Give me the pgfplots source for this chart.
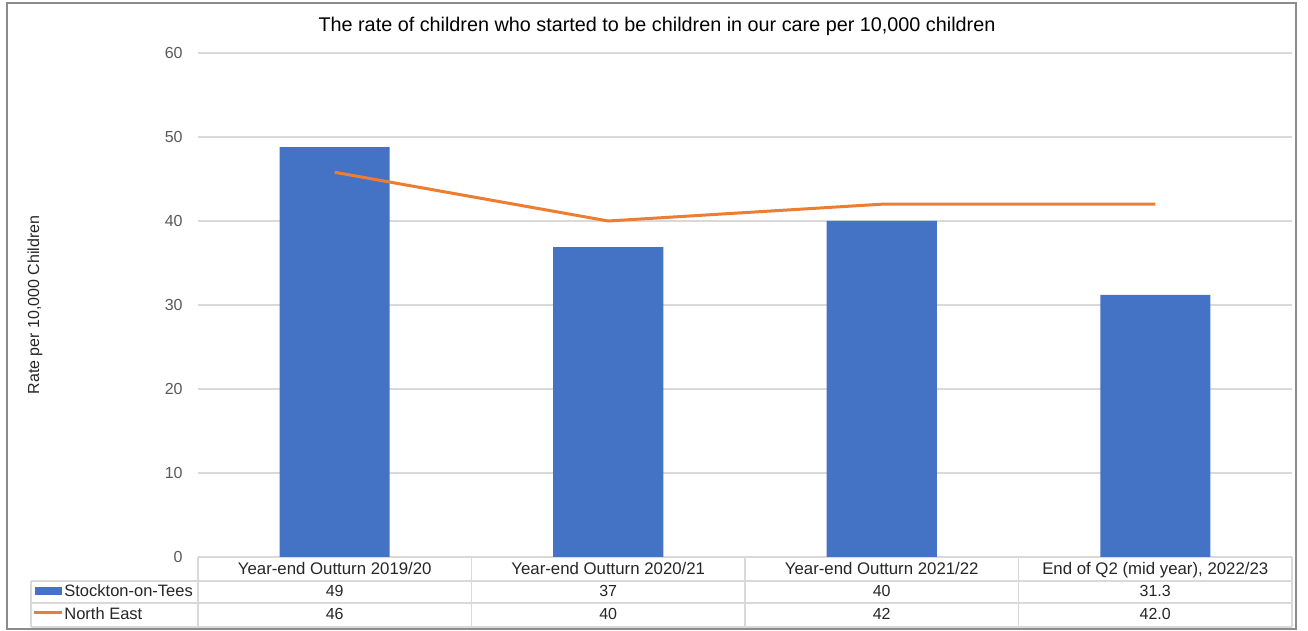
\documentclass[border=0pt]{standalone}
\usepackage{pgfplots}
\pgfplotsset{compat=1.18}
\usepackage{fontspec}
\setmainfont{Liberation Sans}
\definecolor{barblue}{HTML}{4472C4}
\definecolor{lineorange}{HTML}{ED7D31}
\definecolor{gridgray}{HTML}{D9D9D9}
\definecolor{ticktext}{HTML}{595959}
\definecolor{tabtext}{HTML}{262626}
\definecolor{framegray}{HTML}{8C8C8C}
\begin{document}
\begin{tikzpicture}[tabval/.style={font=\fontsize{8}{9}\selectfont, text=tabtext, inner sep=0pt, anchor=base}]
\begin{axis}[%
    at={(0,0)}, anchor=south west,
    scale only axis,
    width=547pt, height=252pt,
    xmin=-0.5, xmax=3.5,
    ymin=0, ymax=60,
    ytick={0,10,...,60},
    xtick={0,1,2,3},
    xticklabels={Year-end Outturn 2019/20,Year-end Outturn 2020/21,Year-end Outturn 2021/22,{End of Q2 (mid year), 2022/23}},
    ymajorgrids,
    grid style={gridgray, line width=0.75pt},
    axis line style={draw=none},
    major tick length=0pt,
    tick style={draw=none},
    /pgf/number format/assume math mode=true,
    yticklabel style={font=\fontsize{8}{9}\selectfont, text=ticktext, anchor=east, inner sep=0pt, xshift=-7.5pt},
    xticklabel style={font=\fontsize{8.4}{10}\selectfont, text=tabtext, anchor=base, inner sep=0pt, yshift=-9pt},
    clip=false,
    ]%
% Stockton-on-Tees
\addplot[ybar, bar width=55pt, bar shift=0pt, fill=barblue, draw=none]
    coordinates {(0,48.8) (1,36.9) (2,40) (3,31.2)};
% North East
\addplot[lineorange, line width=1.5pt, mark=none]
    coordinates {(0,45.8) (1,40) (2,42) (3,42)};

% data table values
\node[tabval, yshift=-20pt] at (axis cs:0,0) {49};
\node[tabval, yshift=-20pt] at (axis cs:1,0) {37};
\node[tabval, yshift=-20pt] at (axis cs:2,0) {40};
\node[tabval, yshift=-20pt] at (axis cs:3,0) {31.3};
\node[tabval, yshift=-31.5pt] at (axis cs:0,0) {46};
\node[tabval, yshift=-31.5pt] at (axis cs:1,0) {40};
\node[tabval, yshift=-31.5pt] at (axis cs:2,0) {42};
\node[tabval, yshift=-31.5pt] at (axis cs:3,0) {42.0};
\end{axis}
\begin{scope}[x=0.5pt, y=-0.5pt, shift={(-99pt,278.5pt)}]
\useasboundingbox (0,0) rectangle (1308,631);
\draw[framegray, line width=0.75pt] (7,3) rectangle (1296,629);
% table grid
\draw[gridgray, line width=0.75pt]
    (31,581) -- (1292,581) (31,603) -- (1292,603) (31,627) -- (1292,627)
    (31,581) -- (31,627) (198,557) -- (198,627) (471.5,557) -- (471.5,627)
    (745,557) -- (745,627) (1018.5,557) -- (1018.5,627) (1292,557) -- (1292,627);
\fill[barblue] (35,587) rectangle (62,595);
\draw[lineorange, line width=1.5pt] (34,613) -- (62,613);
\node[anchor=base west, inner sep=0pt, font=\fontsize{8.25}{9}\selectfont, text=tabtext] at (64,597) {Stockton-on-Tees};
\node[anchor=base west, inner sep=0pt, font=\fontsize{8.25}{9}\selectfont, text=tabtext] at (64,620) {North East};
% title and axis label
\node[anchor=base, inner sep=0pt, font=\fontsize{9.9}{11}\selectfont] at (657,32) {The rate of children who started to be children in our care per 10,000 children};
\node[rotate=90, font=\fontsize{8}{9}\selectfont, text=tabtext] at (35,305) {Rate per 10,000 Children};
\end{scope}
\end{tikzpicture}
\end{document}
